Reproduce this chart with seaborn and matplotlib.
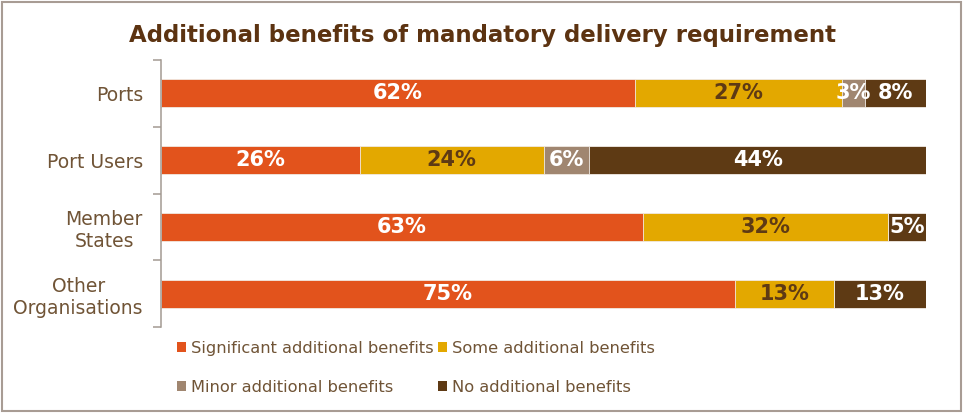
import matplotlib
matplotlib.use("Agg")
import matplotlib.pyplot as plt
from matplotlib.patches import Patch, Rectangle
import numpy as np
import pandas as pd
import seaborn as sns

# Survey results (% of respondents per group)
groups = ["Ports", "Port Users", "Member\nStates", "Other\nOrganisations"]
significant = [62, 26, 63, 75]
some = [27, 24, 32, 13]
minor = [3, 6, 0, 0]
none_ = [8, 44, 5, 13]

series_names = ["Significant additional benefits", "Some additional benefits",
                "Minor additional benefits", "No additional benefits"]
series_vals = [significant, some, minor, none_]
colors = ["#E2531C", "#E3A800", "#A08670", "#5E3A14"]
label_colors = ["white", "#5E3A14", "white", "white"]

title_color = "#5C3311"
text_color = "#705436"
axis_color = "#A39A92"

sns.set_theme(style="white")
plt.rcParams["font.family"] = ["DejaVu Sans"]

fig = plt.figure(figsize=(9.65, 4.16), dpi=100)
ax = fig.add_axes([161 / 965, 89 / 416, 765 / 965, 267 / 416])

# Stack by drawing cumulative totals from the longest layer down
vals = np.array(series_vals, dtype=float)
cum = np.cumsum(vals, axis=0)
for i in range(len(series_names) - 1, -1, -1):
    df = pd.DataFrame({"group": groups, "value": cum[i]})
    sns.barplot(data=df, x="value", y="group", orient="h", color=colors[i],
                width=0.42, edgecolor="#F2ECE6", linewidth=0.6,
                saturation=1, ax=ax)

ax.set_xlim(0, 100)
ax.set_ylim(3.5, -0.5)

# Segment value labels
starts = cum - vals
for i in range(len(series_names)):
    for j in range(len(groups)):
        v = vals[i, j]
        if v <= 0:
            continue
        x0 = starts[i, j]
        x1 = min(cum[i, j], 100)
        ax.text((x0 + x1) / 2, j, f"{int(v)}%", ha="center", va="center",
                fontsize=15, fontweight="bold", color=label_colors[i])

# Axes styling
for s in ["top", "right", "bottom"]:
    ax.spines[s].set_visible(False)
ax.spines["left"].set_color(axis_color)
ax.spines["left"].set_linewidth(1.1)
ax.set_xticks([])
ax.set_xlabel("")
ax.set_ylabel("")
ax.set_yticks(range(len(groups)))
ax.set_yticklabels(groups, fontsize=13.5, color=text_color, ha="right",
                   multialignment="center")
ax.set_yticks(np.arange(-0.5, len(groups), 1.0), minor=True)
ax.tick_params(axis="y", which="major", left=True, length=0, pad=13)
ax.tick_params(axis="y", which="minor", left=True, length=6, width=1.1,
               color=axis_color, direction="out")

fig.suptitle("Additional benefits of mandatory delivery requirement",
             x=0.5, y=0.915, fontsize=16.5, fontweight="bold", color=title_color,
             va="center")

# Legend, two columns
order = [0, 2, 1, 3]
handles = [Patch(facecolor=colors[k], edgecolor="none") for k in order]
labels = [series_names[k] for k in order]
leg = fig.legend(handles, labels, ncol=2, loc="upper left",
                 bbox_to_anchor=(177 / 965, 1 - 341 / 416), frameon=False,
                 fontsize=11.7, handlelength=0.55, handleheight=0.55,
                 handletextpad=0.3, columnspacing=0.3, labelspacing=1.45,
                 borderpad=0, borderaxespad=0)
for t in leg.get_texts():
    t.set_color(text_color)

# Outer chart frame
fig.patches.append(Rectangle((2 / 965, 5 / 416), 959 / 965, 409 / 416,
                             transform=fig.transFigure, fill=False,
                             edgecolor="#A89C94", linewidth=1.5))

fig.savefig("out.png", dpi=100)
